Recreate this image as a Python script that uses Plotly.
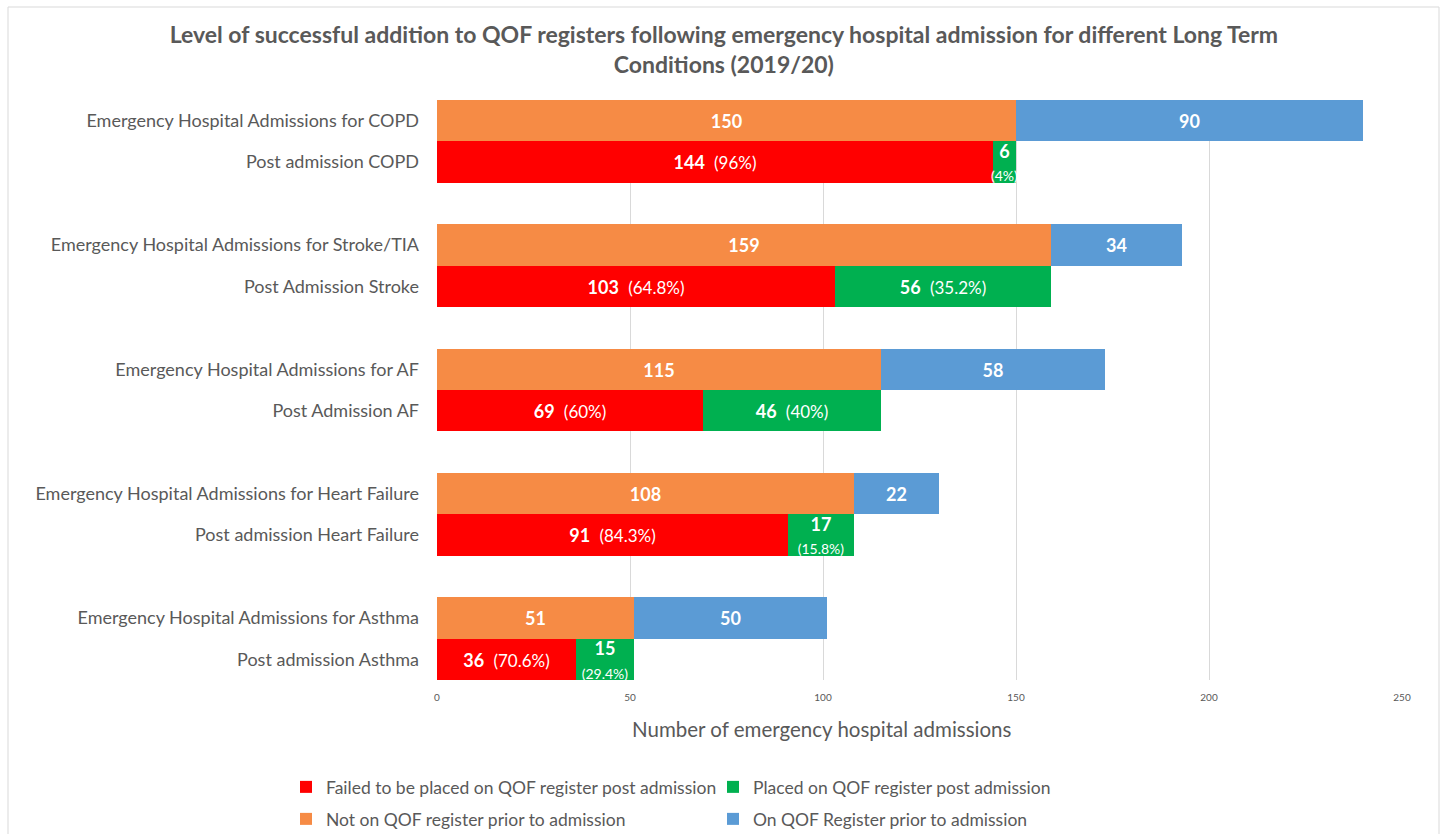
import plotly.graph_objects as go

# Admission rows and post-admission rows for each long term condition
admit_labels = [
    "Emergency Hospital Admissions for COPD",
    "Emergency Hospital Admissions for Stroke/TIA",
    "Emergency Hospital Admissions for AF",
    "Emergency Hospital Admissions for Heart Failure",
    "Emergency Hospital Admissions for Asthma",
]
post_labels = [
    "Post admission COPD",
    "Post Admission Stroke",
    "Post Admission AF",
    "Post admission Heart Failure",
    "Post admission Asthma",
]

not_on_register = [150, 159, 115, 108, 51]
on_register = [90, 34, 58, 22, 50]
failed_post = [144, 103, 69, 91, 36]
placed_post = [6, 56, 46, 17, 15]
failed_pct = ["96%", "64.8%", "60%", "84.3%", "70.6%"]
placed_pct = ["4%", "35.2%", "40%", "15.8%", "29.4%"]

x_ticks = [0, 50, 100, 150, 200, 250]

FONT = "Lato"
GREY = "#595959"

# Each condition occupies three slots: admissions bar, post-admission bar, gap
admit_pos = [3 * i for i in range(len(admit_labels))]
post_pos = [3 * i + 1 for i in range(len(post_labels))]


def pct_label(v, p):
    # narrow segments get the percentage on a second, smaller line
    if v < 20:
        return f"<b>{v}</b><br><span style='font-size:14px'>({p})</span>"
    return f"<b>{v}</b>\u00a0 <span style='font-size:17px'>({p})</span>"


bar_common = dict(
    orientation="h",
    width=1,
    textposition="inside",
    insidetextanchor="middle",
    textangle=0,
    constraintext="none",
    textfont=dict(family=FONT, size=18, color="white"),
    marker_line_width=0,
    hoverinfo="skip",
)

fig = go.Figure()
fig.add_trace(go.Bar(
    name="Failed to be placed on QOF register post admission",
    x=failed_post, y=post_pos, marker_color="#FF0000",
    text=[pct_label(v, p) for v, p in zip(failed_post, failed_pct)],
    legend="legend", **bar_common))
fig.add_trace(go.Bar(
    name="Placed on QOF register post admission",
    x=placed_post, y=post_pos, marker_color="#00B050",
    text=[pct_label(v, p) for v, p in zip(placed_post, placed_pct)],
    legend="legend", **bar_common))
fig.add_trace(go.Bar(
    name="Not on QOF register prior to admission",
    x=not_on_register, y=admit_pos, marker_color="#F68B45",
    text=[f"<b>{v}</b>" for v in not_on_register],
    legend="legend2", **bar_common))
fig.add_trace(go.Bar(
    name="On QOF Register prior to admission",
    x=on_register, y=admit_pos, marker_color="#5B9BD5",
    text=[f"<b>{v}</b>" for v in on_register],
    legend="legend2", **bar_common))

tickvals = []
ticktext = []
for a, p, la, lp in zip(admit_pos, post_pos, admit_labels, post_labels):
    tickvals += [a, p]
    ticktext += [la, lp]

W, H = 1442, 834
L, R, T, B = 437, 40, 100, 154
pw, ph = W - L - R, H - T - B


def px_x(px):
    return (px - L) / pw


def px_y(py):
    return (H - B - py) / ph


legend_common = dict(
    orientation="h",
    xanchor="left",
    yanchor="middle",
    xref="container",
    yref="container",
    font=dict(family=FONT, size=17.5, color=GREY),
    itemwidth=30,
    entrywidth=382,
    bgcolor="rgba(0,0,0,0)",
    traceorder="normal",
)

fig.update_layout(
    width=W,
    height=H,
    margin=dict(l=L, r=R, t=T, b=B),
    barmode="stack",
    bargap=0,
    plot_bgcolor="white",
    paper_bgcolor="white",
    font=dict(family=FONT, color=GREY),
    title=dict(
        text="Level of successful addition to QOF registers following emergency hospital admission for different Long Term<br>Conditions (2019/20)",
        font=dict(family=FONT, size=23, color=GREY, weight="bold"),
        x=0.502, xref="container", xanchor="center",
        y=1 - 43 / H, yref="container", yanchor="middle",
    ),
    xaxis=dict(
        range=[0, 250],
        tickvals=x_ticks,
        tickfont=dict(family=FONT, size=10, color=GREY),
        showgrid=True,
        gridcolor="#D9D9D9",
        gridwidth=1,
        zeroline=True,
        zerolinecolor="rgba(0,0,0,0)",
        showline=False,
        ticks="",
        ticklabelstandoff=10,
    ),
    yaxis=dict(
        range=[13.5, -0.5],
        tickvals=tickvals,
        ticktext=ticktext,
        tickfont=dict(family=FONT, size=18, color=GREY),
        showgrid=False,
        zeroline=False,
        showline=False,
        ticks="",
        ticklabelstandoff=17,
    ),
    legend=dict(x=286 / W, y=1 - 787 / H, **legend_common),
    legend2=dict(x=286 / W, y=1 - 819 / H, **legend_common),
    annotations=[
        dict(
            text="Number of emergency hospital admissions",
            x=px_x(822), y=px_y(729), xref="paper", yref="paper",
            xanchor="center", yanchor="middle", showarrow=False,
            font=dict(family=FONT, size=20.5, color=GREY),
        )
    ],
    shapes=[
        dict(
            type="rect", xref="paper", yref="paper",
            x0=px_x(8), x1=px_x(1439), y0=px_y(850), y1=px_y(7),
            line=dict(color="#D9D9D9", width=1), fillcolor="rgba(0,0,0,0)",
            layer="below",
        )
    ],
)

fig.write_html("out.html")
